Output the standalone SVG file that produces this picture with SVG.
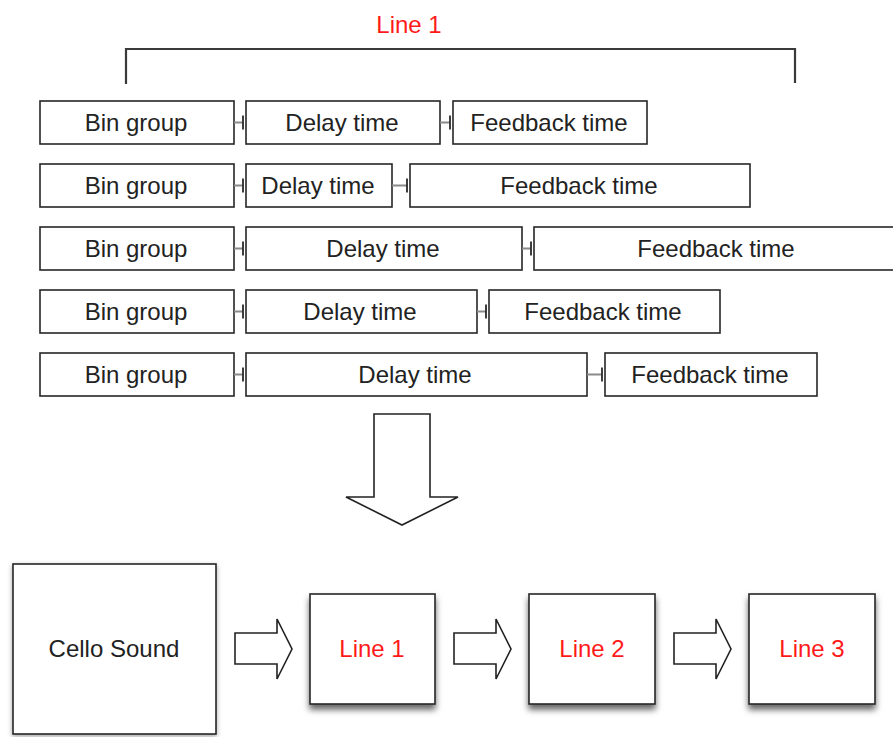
<svg xmlns="http://www.w3.org/2000/svg" width="893" height="737" viewBox="0 0 893 737">
  <style>
    .box { fill: #ffffff; stroke: #262626; stroke-width: 1.6; }
    .lbl { font-family: "Liberation Sans", Arial, sans-serif; font-size: 24px; fill: #222222; text-anchor: middle; }
    .red { fill: #ff1a1a; }
    .link { stroke: #8a8a8a; stroke-width: 2; fill: none; }
    .tick { stroke: #2a2a2a; stroke-width: 1.8; fill: none; }
    .bracket { stroke: #3a3a3a; stroke-width: 2.2; fill: none; }
    .arrow { fill: #ffffff; stroke: #222222; stroke-width: 1.6; stroke-linejoin: miter; }
  </style>
  <defs>
    <filter id="softShadow" x="-10%" y="-10%" width="120%" height="125%">
      <feDropShadow dx="0" dy="2" stdDeviation="2.5" flood-color="#000000" flood-opacity="0.35"/>
    </filter>
    <filter id="dropShadow" x="-10%" y="-10%" width="125%" height="130%">
      <feDropShadow dx="0" dy="5" stdDeviation="3" flood-color="#000000" flood-opacity="0.6"/>
    </filter>
  </defs>

  <rect width="893" height="737" fill="#ffffff"/>

  <!-- bracket spanning one line's parameter set -->
  <g id="line1-bracket">
    <text class="lbl red" x="409" y="33">Line 1</text>
    <path class="bracket" d="M126,84 V49 H795 V83"/>
  </g>

  <!-- parameter rows: bin group, delay time, feedback time -->
  <g id="row1">
    <rect class="box" x="40" y="101" width="194" height="43"/>
    <text class="lbl" x="136" y="131">Bin group</text>
    <rect class="box" x="246" y="101" width="194" height="43"/>
    <text class="lbl" x="342" y="131">Delay time</text>
    <rect class="box" x="453" y="101" width="194" height="43"/>
    <text class="lbl" x="549" y="131">Feedback time</text>
  </g>
  <g id="row2">
    <rect class="box" x="40" y="164" width="194" height="43"/>
    <text class="lbl" x="136" y="194">Bin group</text>
    <rect class="box" x="246" y="164" width="146" height="43"/>
    <text class="lbl" x="318" y="194">Delay time</text>
    <rect class="box" x="410" y="164" width="340" height="43"/>
    <text class="lbl" x="579" y="194">Feedback time</text>
  </g>
  <g id="row3">
    <rect class="box" x="40" y="227" width="194" height="43"/>
    <text class="lbl" x="136" y="257">Bin group</text>
    <rect class="box" x="246" y="227" width="276" height="43"/>
    <text class="lbl" x="383" y="257">Delay time</text>
    <rect class="box" x="534" y="227" width="364" height="43"/>
    <text class="lbl" x="716" y="257">Feedback time</text>
  </g>
  <g id="row4">
    <rect class="box" x="40" y="290" width="194" height="43"/>
    <text class="lbl" x="136" y="320">Bin group</text>
    <rect class="box" x="246" y="290" width="231" height="43"/>
    <text class="lbl" x="360" y="320">Delay time</text>
    <rect class="box" x="489" y="290" width="231" height="43"/>
    <text class="lbl" x="603" y="320">Feedback time</text>
  </g>
  <g id="row5">
    <rect class="box" x="40" y="353" width="194" height="43"/>
    <text class="lbl" x="136" y="383">Bin group</text>
    <rect class="box" x="246" y="353" width="341" height="43"/>
    <text class="lbl" x="415" y="383">Delay time</text>
    <rect class="box" x="605" y="353" width="212" height="43"/>
    <text class="lbl" x="710" y="383">Feedback time</text>
  </g>

  <!-- links between neighbouring parameter boxes -->
  <g id="connectors">
    <path class="link" d="M234,122.5 H243 M440,122.5 H450 M234,185.5 H243 M392,185.5 H407 M234,248.5 H243 M522,248.5 H531 M234,311.5 H243 M477,311.5 H486 M234,374.5 H243 M587,374.5 H602"/>
    <path class="tick" d="M243,115.5 v14 M450,115.5 v14 M243,178.5 v14 M407,178.5 v14 M243,241.5 v14 M531,241.5 v14 M243,304.5 v14 M486,304.5 v14 M243,367.5 v14 M602,367.5 v14"/>

    <!-- large downward arrow -->
    <path class="arrow" d="M374,414 H430 V497 H458 L402,525 L346,497 H374 Z"/>

    <!-- chain arrows -->
    <path class="arrow" d="M235,633 H277 V619 L292,649 L277,679 V664 H235 Z"/>
    <path class="arrow" d="M454,633 H496 V619 L511,649 L496,679 V664 H454 Z"/>
    <path class="arrow" d="M674,633 H716 V619 L731,649 L716,679 V664 H674 Z"/>
  </g>

  <!-- processing chain -->
  <g id="cello-sound">
    <rect class="box" x="13" y="564" width="203" height="170" filter="url(#softShadow)"/>
    <text class="lbl" x="114" y="657">Cello Sound</text>
  </g>
  <g id="line1">
    <rect class="box" x="310" y="594" width="125" height="110" filter="url(#dropShadow)"/>
    <text class="lbl red" x="372" y="657">Line 1</text>
  </g>
  <g id="line2">
    <rect class="box" x="529" y="594" width="126" height="110" filter="url(#dropShadow)"/>
    <text class="lbl red" x="592" y="657">Line 2</text>
  </g>
  <g id="line3">
    <rect class="box" x="749" y="594" width="126" height="110" filter="url(#dropShadow)"/>
    <text class="lbl red" x="812" y="657">Line 3</text>
  </g>
</svg>
